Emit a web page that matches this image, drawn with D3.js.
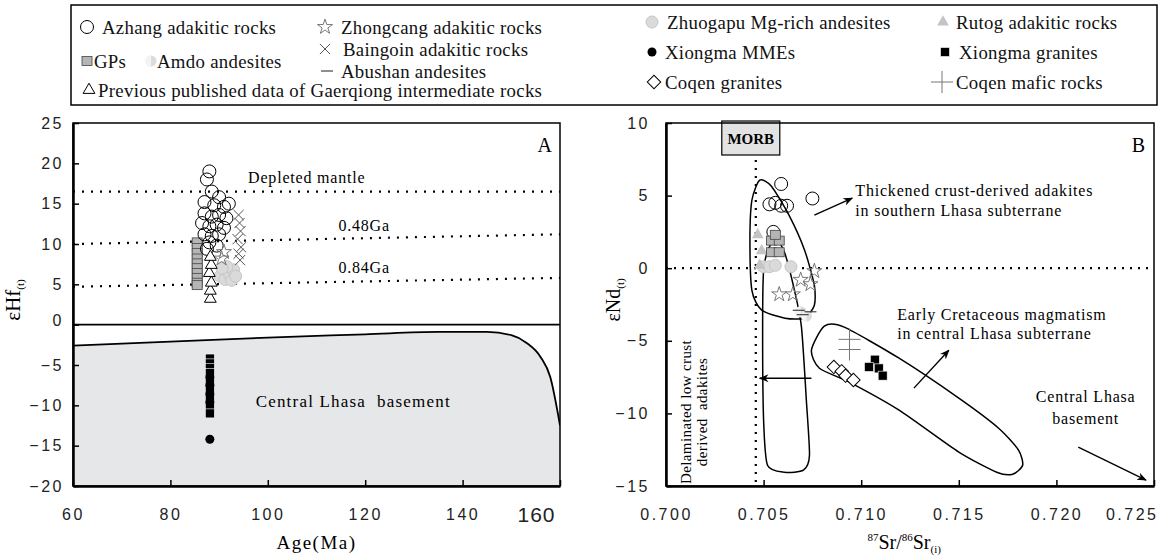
<!DOCTYPE html>
<html>
<head>
<meta charset="utf-8">
<script src="https://cdn.jsdelivr.net/npm/d3@7"></script>
<style>
  body { margin: 0; background: #fff; }
  svg { font-family: "Liberation Serif", "Times New Roman", serif; }
</style>
</head>
<body>
<div id="chart"></div>
<script>
// ---------- data ----------
var ageTicks = [60, 80, 100, 120, 140, 160];
var hfTicks = [-20, -15, -10, -5, 0, 5, 10, 15, 20, 25];
var srTicks = [0.700, 0.705, 0.710, 0.715, 0.720, 0.725];
var ndTicks = [-15, -10, -5, 0, 5, 10];

// panel A reference lines [age, eHf]
var depletedMantle = [[60, 16.5], [160, 16.5]];
var crust048 = [[60, 10.0], [160, 11.2]];
var crust084 = [[60, 4.7], [160, 5.8]];
var basementTop = [[60, -2.6], [80, -2.1], [100, -1.6], [120, -1.2], [135, -0.9], [145, -0.9],
  [150, -1.3], [153, -2.2], [156, -4.0], [158, -6.5], [160, -12.5]];

// panel A samples [age, eHf]
var gpsA = [[85.5, 10.2], [85.5, 9.5], [85.5, 8.9], [85.5, 8.2], [85.5, 7.6], [85.5, 7.0],
  [85.5, 6.4], [85.5, 5.8], [85.5, 5.2], [85.5, 4.9]];
var azhangA = [[88.0, 19.0], [87.5, 18.0], [88.5, 16.5], [90.0, 15.8], [87.0, 15.2], [89.0, 14.8],
  [91.0, 14.6], [92.0, 15.0], [87.0, 13.8], [88.5, 13.4], [90.0, 13.6], [91.5, 13.2],
  [86.5, 12.6], [88.0, 12.2], [89.5, 12.4], [91.0, 12.0], [87.0, 11.2], [88.5, 11.0],
  [90.0, 11.2], [88.0, 10.2], [89.5, 9.8], [87.5, 9.4]];
var prevA = [[88.2, 3.2], [88.2, 4.2], [88.4, 5.2], [88.0, 6.4], [88.4, 7.4], [88.2, 8.4]];
var zhuogapuA = [[90.2, 6.0], [91.2, 5.6], [92.2, 6.2], [93.0, 6.8], [91.6, 7.2], [90.6, 7.0],
  [92.6, 5.5], [93.4, 6.0]];
var baingoinA = [[94.0, 13.6], [94.2, 12.6], [94.4, 11.6], [93.8, 10.6], [94.5, 9.6], [94.0, 8.8], [94.3, 8.0]];
var zhongcangA = [[91.0, 9.0], [90.5, 8.2]];
var mmesA = [[88.1, -6.5], [88.1, -7.5], [88.1, -8.6], [88.1, -9.6], [88.1, -14.2]];
var xgranA = [[88.1, -4.2], [88.1, -4.8], [88.1, -5.4], [88.1, -6.0], [88.1, -7.0], [88.1, -8.0],
  [88.1, -9.0], [88.1, -10.0], [88.1, -11.0]];

// panel B samples [87Sr/86Sr(i), eNd(t)]
var azhangB = [[0.7059, 5.8], [0.7075, 4.8], [0.7053, 4.4], [0.7056, 4.5], [0.7059, 4.3],
  [0.7062, 4.3], [0.7055, 2.5]];
var gpsB = [[0.7054, 1.9], [0.7058, 1.9], [0.7054, 1.1], [0.7058, 1.1], [0.7056, 2.3]];
var rutogB = [[0.7047, 2.3], [0.7049, 1.2], [0.7048, 0.2]];
var zhuogapuB = [[0.7050, 0.1], [0.7053, 0.1], [0.7056, 0.2], [0.7064, 0.1]];
var zhongcangB = [[0.7076, -0.2], [0.7069, -0.8], [0.7074, -1.1], [0.7058, -1.8], [0.7065, -1.8]];
var amdoB = [[0.7069, -3.0], [0.7072, -3.3]];
var abushanB = [[0.7068, -2.9], [0.7070, -3.2], [0.7074, -3.0]];
var coqenMaficB = [[0.7094, -4.9], [0.7094, -5.6]];
var coqenGranB = [[0.7086, -6.8], [0.7090, -7.1], [0.7092, -7.4], [0.7096, -7.7]];
var xgranB = [[0.7107, -6.3], [0.7104, -6.8], [0.7109, -6.9], [0.7111, -7.4]];

// panel B fields [87Sr/86Sr(i), eNd(t)]
var thickenedField = [[0.7048, 6.06], [0.7054, 5.65], [0.7063, 3.65], [0.7071, 1.24], [0.7076, -1.17],
  [0.7076, -2.55], [0.7071, -3.44], [0.7061, -3.44], [0.7049, -2.89], [0.7044, -1.52],
  [0.7043, 1.93], [0.7044, 4.68]];
var delaminatedField = [[0.70566, 1.93], [0.70607, 1.10], [0.70658, -1.52], [0.70694, -4.06],
  [0.70719, -9.09], [0.70735, -12.88], [0.70704, -13.91], [0.70607, -14.05], [0.70520, -13.57],
  [0.70500, -10.47], [0.70495, -4.27], [0.70500, -0.14], [0.70526, 1.38]];
var cretaceousField = [[0.70811, -3.99], [0.70913, -4.06], [0.71194, -6.20], [0.71500, -8.95],
  [0.71704, -11.02], [0.71806, -12.53], [0.71827, -13.57], [0.71776, -14.19], [0.71694, -14.05],
  [0.71500, -12.67], [0.71194, -9.78], [0.70939, -7.85], [0.70786, -6.89], [0.70745, -5.65]];
var morbSr = 0.7046;

// ---------- layout ----------
var W = 1160, H = 556;
var xA = d3.scaleLinear().domain([60, 160]).range([73, 560]);
var yA = d3.scaleLinear().domain([-20, 25]).range([486, 123]);
var xB = d3.scaleLinear().domain([0.700, 0.725]).range([666, 1154]);
var yB = d3.scaleLinear().domain([-15, 10]).range([486, 123]);

var svg = d3.select("#chart").append("svg").attr("width", W).attr("height", H);
var defs = svg.append("defs");
defs.append("marker").attr("id", "arrow").attr("viewBox", "0 0 10 10")
  .attr("refX", 9).attr("refY", 5).attr("markerWidth", 7).attr("markerHeight", 7)
  .attr("orient", "auto-start-reverse")
  .append("path").attr("d", "M0,1L10,5L0,9L3,5z").attr("fill", "#000");
defs.append("clipPath").attr("id", "clipA").append("rect")
  .attr("x", 73).attr("y", 123).attr("width", 487).attr("height", 363);
defs.append("clipPath").attr("id", "clipB").append("rect")
  .attr("x", 666).attr("y", 123).attr("width", 488).attr("height", 363);

// marker drawing
function mark(g, kind, x, y) {
  if (kind == "azhang") {
    g.append("circle").attr("cx", x).attr("cy", y).attr("r", 6.5)
      .attr("fill", "none").attr("stroke", "#000").attr("stroke-width", 1);
  } else if (kind == "gps") {
    g.append("rect").attr("x", x - 5).attr("y", y - 4.5).attr("width", 10).attr("height", 9)
      .attr("fill", "#b5b5b5").attr("stroke", "#444").attr("stroke-width", 0.8);
  } else if (kind == "amdo") {
    g.append("circle").attr("cx", x).attr("cy", y).attr("r", 5.5).attr("fill", "#dcdcdc");
    g.append("path").attr("d", "M" + x + "," + (y - 5.5) + "A5.5,5.5 0 0,0 " + x + "," + (y + 5.5) + "Z")
      .attr("fill", "#f3f3f3");
  } else if (kind == "prev") {
    g.append("path").attr("transform", "translate(" + x + "," + y + ")")
      .attr("d", d3.symbol(d3.symbolTriangle, 60)).attr("fill", "#fff").attr("stroke", "#000");
  } else if (kind == "zhongcang") {
    g.append("path").attr("transform", "translate(" + x + "," + y + ")")
      .attr("d", d3.symbol(d3.symbolStar, 70)).attr("fill", "none").attr("stroke", "#777");
  } else if (kind == "baingoin") {
    g.append("path").attr("transform", "translate(" + x + "," + y + ")")
      .attr("d", d3.symbol(d3.symbolTimes, 70)).attr("fill", "none").attr("stroke", "#555");
  } else if (kind == "abushan") {
    g.append("line").attr("x1", x - 6).attr("x2", x + 6).attr("y1", y).attr("y2", y)
      .attr("stroke", "#444").attr("stroke-width", 1.2);
  } else if (kind == "zhuogapu") {
    g.append("circle").attr("cx", x).attr("cy", y).attr("r", 6)
      .attr("fill", "#dadada").attr("stroke", "#c6c6c6");
  } else if (kind == "rutog") {
    g.append("path").attr("transform", "translate(" + x + "," + y + ")")
      .attr("d", d3.symbol(d3.symbolTriangle, 60)).attr("fill", "#c4c4c4");
  } else if (kind == "mmes") {
    g.append("circle").attr("cx", x).attr("cy", y).attr("r", 4.5).attr("fill", "#000");
  } else if (kind == "xgran") {
    g.append("rect").attr("x", x - 4.5).attr("y", y - 4.5).attr("width", 9).attr("height", 9)
      .attr("fill", "#000").attr("stroke", "#fff").attr("stroke-width", 0.6);
  } else if (kind == "coqenGran") {
    g.append("path").attr("transform", "translate(" + x + "," + y + ") rotate(45)")
      .attr("d", d3.symbol(d3.symbolSquare, 90)).attr("fill", "#fff").attr("stroke", "#000");
  } else if (kind == "coqenMafic") {
    g.append("path").attr("transform", "translate(" + x + "," + y + ")")
      .attr("d", d3.symbol(d3.symbolPlus, 160)).attr("fill", "none").attr("stroke", "#777");
  }
}

function plotPoints(g, pts, kind, x, y) {
  pts.forEach(function (d) { mark(g, kind, x(d[0]), y(d[1])); });
}

function styleAxis(ax) {
  ax.select(".domain").attr("stroke-width", 2.5);
  ax.selectAll(".tick line").attr("stroke-width", 1.5);
  ax.selectAll(".tick text").attr("font-size", 16).attr("letter-spacing", 2.5).attr("fill", "#222");
}

// ---------- legend ----------
var leg = svg.append("g");
leg.append("rect").attr("x", 71).attr("y", 5).attr("width", 1086).attr("height", 100)
  .attr("fill", "none").attr("stroke", "#000").attr("stroke-width", 1.5);
var legendItems = [
  ["azhang", 87, 27, 102, "Azhang adakitic rocks"],
  ["gps", 87, 61, 94, "GPs"],
  ["amdo", 151, 61, 157, "Amdo andesites"],
  ["prev", 89, 90, 98, "Previous published data of Gaerqiong intermediate rocks"],
  ["zhongcang", 325, 27, 341, "Zhongcang adakitic rocks"],
  ["baingoin", 325, 49, 343, "Baingoin adakitic rocks"],
  ["abushan", 327, 71, 341, "Abushan andesites"],
  ["zhuogapu", 652, 22, 667, "Zhuogapu Mg-rich andesites"],
  ["mmes", 652, 52, 665, "Xiongma MMEs"],
  ["coqenGran", 654, 82, 665, "Coqen granites"],
  ["rutog", 943, 22, 956, "Rutog adakitic rocks"],
  ["xgran", 945, 52, 959, "Xiongma granites"],
  ["coqenMafic", 942, 82, 956, "Coqen mafic rocks"]
];
legendItems.forEach(function (d) {
  mark(leg, d[0], d[1], d[2]);
  leg.append("text").attr("x", d[3]).attr("y", d[2]).attr("dy", "0.35em")
    .attr("font-size", 18.8).attr("letter-spacing", 0.3).attr("fill", "#111").text(d[4]);
});

// ---------- panel A ----------
var gA = svg.append("g");
var plotA = gA.append("g").attr("clip-path", "url(#clipA)");
var lineA = d3.line().x(function (d) { return xA(d[0]); }).y(function (d) { return yA(d[1]); });

plotA.append("path").datum(basementTop)
  .attr("d", d3.area().x(function (d) { return xA(d[0]); }).y0(486)
    .y1(function (d) { return yA(d[1]); }).curve(d3.curveMonotoneX))
  .attr("fill", "#e6e7e8");
plotA.append("path").datum(basementTop).attr("d", lineA.curve(d3.curveMonotoneX))
  .attr("fill", "none").attr("stroke", "#000").attr("stroke-width", 1.8);
lineA.curve(d3.curveLinear);
[depletedMantle, crust048, crust084].forEach(function (l) {
  plotA.append("path").datum(l).attr("d", lineA).attr("fill", "none")
    .attr("stroke", "#000").attr("stroke-width", 2.2).attr("stroke-dasharray", "2,7");
});
plotA.append("line").attr("x1", xA(60)).attr("x2", xA(160)).attr("y1", yA(0)).attr("y2", yA(0))
  .attr("stroke", "#000").attr("stroke-width", 1.8);

plotPoints(plotA, gpsA, "gps", xA, yA);
plotPoints(plotA, zhuogapuA, "zhuogapu", xA, yA);
plotPoints(plotA, azhangA, "azhang", xA, yA);
plotPoints(plotA, baingoinA, "baingoin", xA, yA);
plotPoints(plotA, zhongcangA, "zhongcang", xA, yA);
plotPoints(plotA, prevA, "prev", xA, yA);
plotPoints(plotA, xgranA, "xgran", xA, yA);
plotPoints(plotA, mmesA, "mmes", xA, yA);

gA.append("text").attr("x", xA(108)).attr("y", yA(17.6)).attr("text-anchor", "middle")
  .attr("font-size", 16).attr("letter-spacing", 0.8).text("Depleted mantle");
gA.append("text").attr("x", xA(114.5)).attr("y", yA(11.6)).attr("font-size", 16)
  .attr("letter-spacing", 0.8).text("0.48Ga");
gA.append("text").attr("x", xA(114.5)).attr("y", yA(6.4)).attr("font-size", 16)
  .attr("letter-spacing", 0.8).text("0.84Ga");
gA.append("text").attr("x", xA(97.5)).attr("y", yA(-10.2)).attr("font-size", 17)
  .attr("letter-spacing", 1.2).attr("xml:space", "preserve").text("Central Lhasa  basement");
gA.append("text").attr("x", 552).attr("y", 152).attr("text-anchor", "end")
  .attr("font-size", 20).text("A");

gA.append("rect").attr("x", 73).attr("y", 123).attr("width", 487).attr("height", 363)
  .attr("fill", "none").attr("stroke", "#000").attr("stroke-width", 1.5);
var axA = gA.append("g").attr("transform", "translate(0,486)")
  .call(d3.axisBottom(xA).tickValues(ageTicks).tickSizeInner(-6).tickSizeOuter(0).tickPadding(23));
styleAxis(axA);
axA.selectAll(".tick text").filter(function (d) { return d == 160; })
  .attr("font-size", 21).attr("letter-spacing", 1).attr("dx", -24).attr("dy", "0.6em");
var ayA = gA.append("g").attr("transform", "translate(73,0)")
  .call(d3.axisLeft(yA).tickValues(hfTicks).tickSizeInner(-6).tickSizeOuter(0).tickPadding(9));
styleAxis(ayA);
ayA.selectAll(".tick").filter(function (d) { return d == 0; }).select("text").attr("dy", "0.05em");

gA.append("text").attr("x", xA(110)).attr("y", 549).attr("text-anchor", "middle")
  .attr("font-size", 19).attr("letter-spacing", 1.5).text("Age(Ma)");
var tA = gA.append("text").attr("transform", "translate(20,300) rotate(-90)")
  .attr("text-anchor", "middle").attr("font-size", 21);
tA.append("tspan").text("εHf");
tA.append("tspan").attr("font-size", 11).attr("dy", 4).text("(t)");

// ---------- panel B ----------
var gB = svg.append("g");
var plotB = gB.append("g").attr("clip-path", "url(#clipB)");
var lineB = d3.line().x(function (d) { return xB(d[0]); }).y(function (d) { return yB(d[1]); });

plotB.append("line").attr("x1", xB(0.700)).attr("x2", xB(0.725)).attr("y1", yB(0)).attr("y2", yB(0))
  .attr("stroke", "#000").attr("stroke-width", 2.2).attr("stroke-dasharray", "2,6");
plotB.append("line").attr("x1", xB(morbSr)).attr("x2", xB(morbSr)).attr("y1", yB(8)).attr("y2", yB(-15))
  .attr("stroke", "#000").attr("stroke-width", 2.2).attr("stroke-dasharray", "2,6");

[thickenedField, delaminatedField, cretaceousField].forEach(function (f) {
  plotB.append("path").datum(f).attr("d", lineB.curve(d3.curveCardinalClosed.tension(0.3)))
    .attr("fill", "none").attr("stroke", "#000").attr("stroke-width", 1.5);
});

plotPoints(plotB, zhuogapuB, "zhuogapu", xB, yB);
plotPoints(plotB, rutogB, "rutog", xB, yB);
plotPoints(plotB, azhangB, "azhang", xB, yB);
plotPoints(plotB, gpsB, "gps", xB, yB);
plotPoints(plotB, zhongcangB, "zhongcang", xB, yB);
plotPoints(plotB, amdoB, "amdo", xB, yB);
plotPoints(plotB, abushanB, "abushan", xB, yB);
plotPoints(plotB, coqenMaficB, "coqenMafic", xB, yB);
plotPoints(plotB, coqenGranB, "coqenGran", xB, yB);
plotPoints(plotB, xgranB, "xgran", xB, yB);

// MORB box
gB.append("rect").attr("x", xB(morbSr) - 34).attr("y", 121).attr("width", 58).attr("height", 34)
  .attr("fill", "#e3e3e3").attr("stroke", "#000").attr("stroke-width", 1.2);
gB.append("text").attr("x", xB(morbSr) - 5).attr("y", 144).attr("text-anchor", "middle")
  .attr("font-size", 15).attr("font-weight", "bold").text("MORB");

// annotations
var arrows = [
  [[0.7076, 3.65], [0.70954, 4.82]],
  [[0.70745, -7.58], [0.70480, -7.58]],
  [[0.71270, -8.26], [0.71449, -5.65]],
  [[0.72112, -12.33], [0.72459, -14.6]]
];
arrows.forEach(function (a) {
  gB.append("line").attr("x1", xB(a[0][0])).attr("y1", yB(a[0][1]))
    .attr("x2", xB(a[1][0])).attr("y2", yB(a[1][1]))
    .attr("stroke", "#000").attr("stroke-width", 1.4).attr("marker-end", "url(#arrow)");
});
var notes = [
  [0.70970, 5.0, "Thickened crust-derived adakites", "start"],
  [0.70970, 3.6, "in southern Lhasa subterrane", "start"],
  [0.71185, -3.6, "Early Cretaceous magmatism", "start"],
  [0.71185, -4.9, "in central Lhasa subterrane", "start"],
  [0.72150, -9.2, "Central Lhasa", "middle"],
  [0.72150, -10.7, "basement", "middle"]
];
notes.forEach(function (n) {
  gB.append("text").attr("x", xB(n[0])).attr("y", yB(n[1])).attr("text-anchor", n[3])
    .attr("font-size", 16).attr("letter-spacing", 0.8).text(n[2]);
});
gB.append("text").attr("transform", "translate(" + xB(0.7013) + "," + yB(-9.9) + ") rotate(-90)")
  .attr("text-anchor", "middle").attr("font-size", 15).attr("letter-spacing", 0.4)
  .text("Delaminated low crust");
gB.append("text").attr("transform", "translate(" + xB(0.7021) + "," + yB(-9.9) + ") rotate(-90)")
  .attr("text-anchor", "middle").attr("font-size", 15).attr("letter-spacing", 0.4)
  .attr("xml:space", "preserve").text("derived  adakites");
gB.append("text").attr("x", 1145).attr("y", 152).attr("text-anchor", "end")
  .attr("font-size", 20).text("B");

gB.append("rect").attr("x", 666).attr("y", 123).attr("width", 488).attr("height", 363)
  .attr("fill", "none").attr("stroke", "#000").attr("stroke-width", 1.5);
var axB = gB.append("g").attr("transform", "translate(0,486)")
  .call(d3.axisBottom(xB).tickValues(srTicks).tickFormat(d3.format(".3f"))
    .tickSizeInner(-6).tickSizeOuter(0).tickPadding(23));
styleAxis(axB);
axB.selectAll(".tick text").filter(function (d) { return d == 0.725; })
  .attr("text-anchor", "end").attr("dx", 4);
var ayB = gB.append("g").attr("transform", "translate(666,0)")
  .call(d3.axisLeft(yB).tickValues(ndTicks).tickSizeInner(-6).tickSizeOuter(0).tickPadding(16));
styleAxis(ayB);

var tB = gB.append("text").attr("transform", "translate(620,300) rotate(-90)")
  .attr("text-anchor", "middle").attr("font-size", 20);
tB.append("tspan").text("εNd");
tB.append("tspan").attr("font-size", 11).attr("dy", 4).text("(t)");

var xt = gB.append("text").attr("x", xB(0.7122)).attr("y", 549).attr("text-anchor", "middle")
  .attr("font-size", 20);
xt.append("tspan").attr("font-size", 11).attr("dy", -8).text("87");
xt.append("tspan").attr("dy", 8).text("Sr/");
xt.append("tspan").attr("font-size", 11).attr("dy", -8).text("86");
xt.append("tspan").attr("dy", 8).text("Sr");
xt.append("tspan").attr("font-size", 11).attr("dy", 4).text("(i)");
</script>
</body>
</html>
